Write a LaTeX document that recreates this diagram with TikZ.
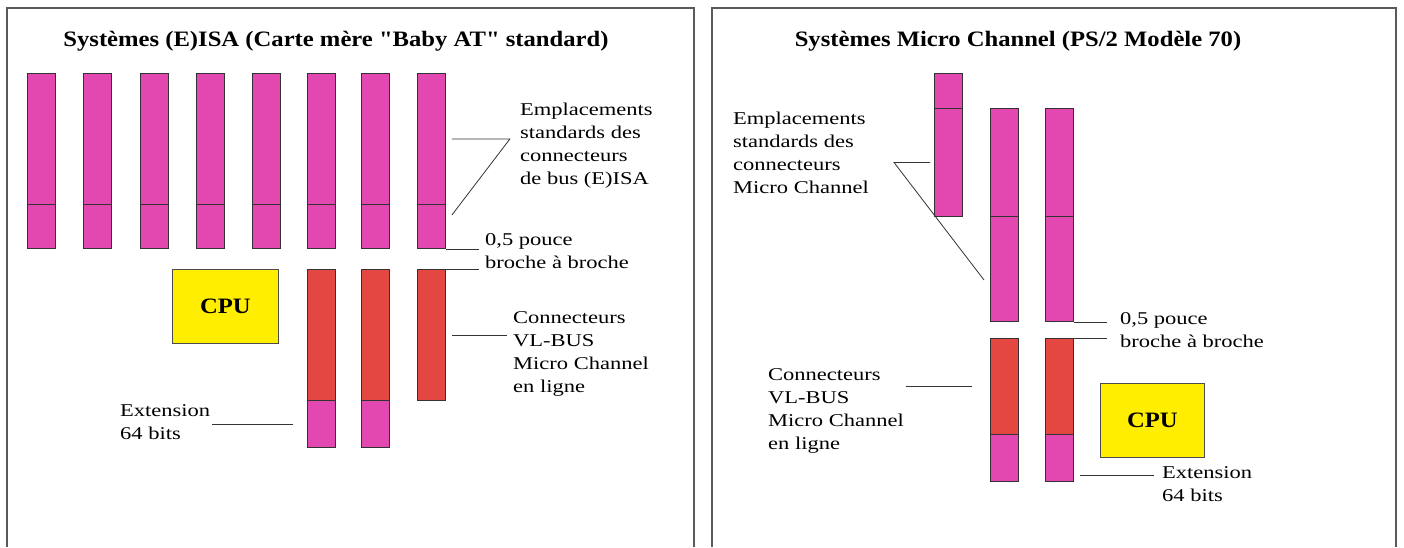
\documentclass[tikz,border=0pt]{standalone}
\usepackage{fontspec}
\setmainfont{Liberation Serif}
\newfontfamily\lblfont[FakeStretch=1.25]{Liberation Serif}
\newfontfamily\ttlfont[FakeStretch=1.12]{Liberation Serif}
\usetikzlibrary{positioning}
\definecolor{isapink}{RGB}{226,72,176}
\definecolor{vlred}{RGB}{228,70,66}
\definecolor{cpuyel}{RGB}{255,238,0}
\definecolor{frm}{RGB}{90,90,90}

\begin{document}
\begin{tikzpicture}[x=1pt,y=-1pt,
  slot/.style={draw=black!80,fill=isapink,line width=0.9pt,inner sep=0pt,
               minimum width=28pt,anchor=north west},
  vl/.style={slot,fill=vlred},
  cpu/.style={draw=black!70,fill=cpuyel,line width=0.9pt,inner sep=0pt,
              minimum width=106pt,minimum height=74pt,anchor=north west,
              font=\ttlfont\bfseries\fontsize{22}{24}\selectfont},
  ttl/.style={font=\ttlfont\bfseries\fontsize{22}{26}\selectfont,inner sep=0pt},
  lab/.style={font=\lblfont\fontsize{18}{23}\selectfont,align=left,inner sep=0pt,
              anchor=north west},
  e/.style={draw=black!80,line width=0.8pt}]

\useasboundingbox (0,0) rectangle (1404,547);

% ---- frames ----
\draw[frm,line width=1.2pt] (7,547) -- (7,8) -- (694,8) -- (694,547);
\draw[frm,line width=1.2pt] (712,547) -- (712,8) -- (1396,8) -- (1396,547);

% ---- left: (E)ISA board ----
\node[ttl] (ttlL) at (336,41) {Systèmes (E)ISA (Carte mère "Baby AT" standard)};

\node[slot,minimum height=131pt] (isaA1) at (27,73) {};
\node[slot,minimum height=44pt]  (isaB1) at (27,204) {};
\node[slot,minimum height=131pt] (isaA2) at (83,73) {};
\node[slot,minimum height=44pt]  (isaB2) at (83,204) {};
\node[slot,minimum height=131pt] (isaA3) at (140,73) {};
\node[slot,minimum height=44pt]  (isaB3) at (140,204) {};
\node[slot,minimum height=131pt] (isaA4) at (196,73) {};
\node[slot,minimum height=44pt]  (isaB4) at (196,204) {};
\node[slot,minimum height=131pt] (isaA5) at (252,73) {};
\node[slot,minimum height=44pt]  (isaB5) at (252,204) {};
\node[slot,minimum height=131pt] (isaA6) at (307,73) {};
\node[slot,minimum height=44pt]  (isaB6) at (307,204) {};
\node[slot,minimum height=131pt] (isaA7) at (361,73) {};
\node[slot,minimum height=44pt]  (isaB7) at (361,204) {};
\node[slot,minimum height=131pt] (isaA8) at (417,73) {};
\node[slot,minimum height=44pt]  (isaB8) at (417,204) {};

\node[cpu] (cpuL) at (172,269) {CPU};

\node[vl,minimum height=131pt]   (vlA1) at (307,269) {};
\node[slot,minimum height=47pt]  (vlB1) at (307,400) {};
\node[vl,minimum height=131pt]   (vlA2) at (361,269) {};
\node[slot,minimum height=47pt]  (vlB2) at (361,400) {};
\node[vl,minimum height=131pt]   (vlA3) at (417,269) {};

\node[lab] (emp1) at (520,103) {Emplacements\\standards des\\connecteurs\\de bus (E)ISA};
\node[lab] (pouce1) at (485,233) {0,5 pouce\\broche à broche};
\node[lab] (conn1) at (513,311) {Connecteurs\\VL-BUS\\Micro Channel\\en ligne};
\node[lab] (ext1) at (120,404) {Extension\\64 bits};

\draw[e] ([xshift=6pt]isaA8.east) -- ([xshift=64pt]isaA8.east)
         -- ([shift={(6,11)}]isaB8.north east);
\draw[e,shorten >=6pt] (isaB8.south east) -- (isaB8.south east -| pouce1.west);
\draw[e,shorten >=6pt] (vlA3.north east) -- (vlA3.north east -| pouce1.west);
\draw[e,shorten <=6pt,shorten >=6pt] (vlA3.east) -- (vlA3.east -| conn1.west);
\draw[e,shorten <=14pt,shorten >=2pt] (vlB1.west) -- (vlB1.west -| ext1.east);

% ---- right: Micro Channel board ----
\node[ttl] (ttlR) at (1018,41) {Systèmes Micro Channel (PS/2 Modèle 70)};

\node[slot,minimum height=35pt]  (mcA1) at (934,73) {};
\node[slot,minimum height=108pt] (mcA2) at (934,108) {};
\node[slot,minimum height=108pt] (mcB1) at (990,108) {};
\node[slot,minimum height=105pt] (mcB2) at (990,216) {};
\node[slot,minimum height=108pt] (mcC1) at (1045,108) {};
\node[slot,minimum height=105pt] (mcC2) at (1045,216) {};

\node[vl,minimum height=96pt]    (vlC1) at (990,338) {};
\node[slot,minimum height=47pt]  (extC1) at (990,434) {};
\node[vl,minimum height=96pt]    (vlC2) at (1045,338) {};
\node[slot,minimum height=47pt]  (extC2) at (1045,434) {};

\node[cpu,minimum width=104pt] (cpuR) at (1100,383) {CPU};

\node[lab] (emp2) at (733,112) {Emplacements\\standards des\\connecteurs\\Micro Channel};
\node[lab] (pouce2) at (1120,312) {0,5 pouce\\broche à broche};
\node[lab] (conn2) at (768,368) {Connecteurs\\VL-BUS\\Micro Channel\\en ligne};
\node[lab] (ext2) at (1162,466) {Extension\\64 bits};

\coordinate (x2) at ([shift={(6,-7)}]extC2.south east);

\draw[e] ([xshift=-4pt]mcA2.west) -- ([xshift=-40pt]mcA2.west)
         -- ([shift={(-6,64)}]mcB2.north west);
\draw[e,shorten >=13pt] (mcC2.south east) -- (mcC2.south east -| pouce2.west);
\draw[e,shorten >=13pt] (vlC2.north east) -- (vlC2.north east -| pouce2.west);
\draw[e,shorten <=18pt,shorten >=2pt] (vlC1.west) -- (vlC1.west -| conn2.east);
\draw[e,shorten >=8pt] (x2) -- (x2 -| ext2.west);
\end{tikzpicture}
\end{document}
